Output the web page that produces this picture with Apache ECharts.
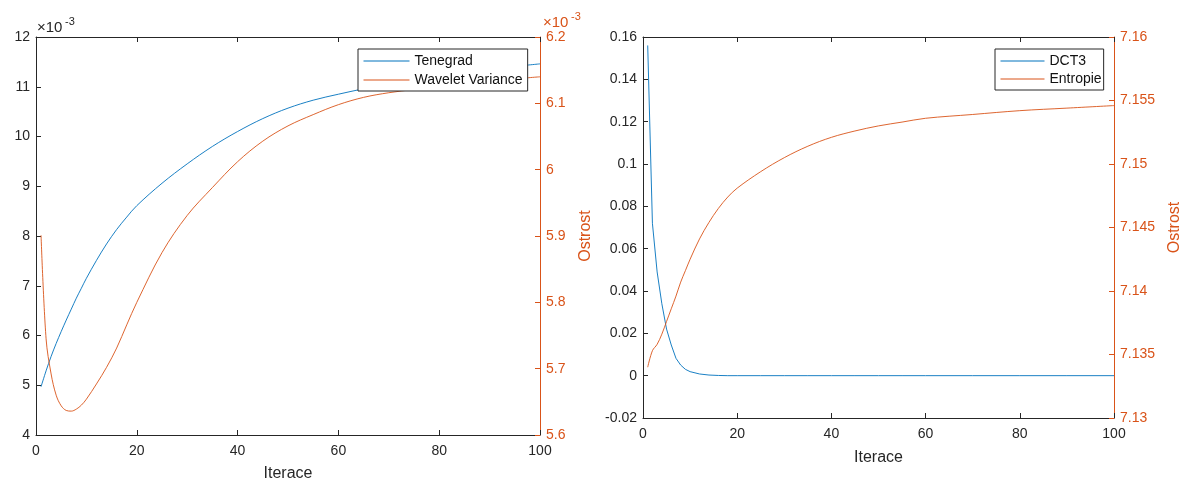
<!DOCTYPE html>
<html>
<head>
<meta charset="utf-8">
<script src="https://cdn.jsdelivr.net/npm/echarts@6/dist/echarts.min.js"></script>
<style>
  html, body { margin: 0; padding: 0; background: #fff; }
  #chart { width: 1183px; height: 481px; }
</style>
</head>
<body>
<div id="chart"></div>
<script>
// Left panel: sharpness measures (values in units of 1e-3)
const leftIter = [1, 2, 3, 4, 5, 6, 7, 8, 9, 10, 12, 14, 16, 18, 20, 25, 30, 35, 40, 45, 50, 55, 60, 65, 70, 75, 80, 85, 90, 95, 100];
const tenegrad = [4.97, 5.29, 5.58, 5.84, 6.08, 6.31, 6.53, 6.75, 6.95, 7.15, 7.51, 7.84, 8.13, 8.38, 8.61, 9.06, 9.45, 9.80, 10.10, 10.36, 10.57, 10.73, 10.85, 10.96, 11.06, 11.15, 11.23, 11.30, 11.36, 11.41, 11.46];
const waveletVariance = [5.901, 5.745, 5.692, 5.660, 5.644, 5.637, 5.636, 5.639, 5.645, 5.654, 5.677, 5.702, 5.731, 5.766, 5.800, 5.875, 5.931, 5.973, 6.012, 6.043, 6.066, 6.083, 6.098, 6.109, 6.116, 6.121, 6.126, 6.130, 6.134, 6.137, 6.140];

// Right panel: DCT3 and entropy
const rightIter = [1, 2, 3, 4, 5, 6, 7, 8, 9, 10, 12, 14, 16, 18, 20, 25, 30, 35, 40, 45, 50, 55, 60, 70, 80, 90, 100];
const dct3 = [0.156, 0.072, 0.049, 0.034, 0.022, 0.0145, 0.0082, 0.0050, 0.0030, 0.0019, 0.0008, 0.0003, 0.0001, 0, 0, 0, 0, 0, 0, 0, 0, 0, 0, 0, 0, 0, 0];
const entropie = [7.1340, 7.1353, 7.1358, 7.1366, 7.1376, 7.1386, 7.1396, 7.1407, 7.1416, 7.1425, 7.1441, 7.1454, 7.1465, 7.1474, 7.1481, 7.1494, 7.1505, 7.1514, 7.1521, 7.1526, 7.1530, 7.1533, 7.1536, 7.1539, 7.1542, 7.1544, 7.1546];

const xTicks = { min: 0, max: 100, interval: 20 };

const FONT = 'Liberation Sans, Arial, sans-serif';
const INK = '#262626';
const BLUE = '#0072BD';
const ORANGE = '#D95319';

const pairs = (xs, ys) => xs.map((x, i) => [x, ys[i]]);

function bottomX(grid, nameGap) {
  return {
    gridIndex: grid, type: 'value', position: 'bottom',
    min: xTicks.min, max: xTicks.max, interval: xTicks.interval,
    name: 'Iterace', nameLocation: 'middle', nameGap: nameGap,
    nameTextStyle: { fontSize: 16, color: INK, fontFamily: FONT },
    axisLine: { show: true, onZero: false, lineStyle: { color: INK, width: 1 } },
    axisTick: { show: true, inside: true, length: 5, lineStyle: { color: INK } },
    axisLabel: { fontSize: 14, color: INK, fontFamily: FONT, margin: 9 },
    splitLine: { show: false }
  };
}
function topX(grid) {
  return {
    gridIndex: grid, type: 'value', position: 'top',
    min: xTicks.min, max: xTicks.max, interval: xTicks.interval,
    axisLine: { show: true, onZero: false, lineStyle: { color: INK, width: 1 } },
    axisTick: { show: true, inside: true, length: 5, lineStyle: { color: INK } },
    axisLabel: { show: false },
    splitLine: { show: false }
  };
}
function yAx(grid, pos, min, max, interval, color, name, nameGap) {
  const a = {
    gridIndex: grid, type: 'value', position: pos,
    min: min, max: max, interval: interval,
    axisLine: { show: true, onZero: false, lineStyle: { color: color, width: 1 } },
    axisTick: { show: true, inside: true, length: 5, lineStyle: { color: color } },
    axisLabel: { fontSize: 14, color: color, fontFamily: FONT, margin: 6 },
    splitLine: { show: false }
  };
  if (name) {
    a.name = name;
    a.nameLocation = 'middle';
    a.nameGap = nameGap;
    a.nameTextStyle = { fontSize: 16, color: color, fontFamily: FONT };
  }
  return a;
}
function legend(names, left, top, itemWidth, itemGap, padRight) {
  return {
    data: names, orient: 'vertical', left: left, top: top,
    padding: [5, padRight, 4, 5], itemGap: itemGap,
    itemWidth: itemWidth, itemHeight: 14,
    backgroundColor: '#fff', borderColor: INK, borderWidth: 1, borderRadius: 0,
    itemStyle: { opacity: 0 },
    lineStyle: { width: 1 },
    textStyle: { fontSize: 14, color: '#111', fontFamily: FONT },
    selectedMode: false
  };
}
function lineSeries(name, xi, yi, xs, ys, color, smooth) {
  return {
    name: name, type: 'line', xAxisIndex: xi, yAxisIndex: yi,
    data: pairs(xs, ys), symbol: 'none', smooth: smooth,
    lineStyle: { color: color, width: 0.9 }, itemStyle: { color: color },
    animation: false
  };
}

const chart = echarts.init(document.getElementById('chart'), null, { renderer: 'canvas' });
chart.setOption({
  animation: false,
  backgroundColor: '#fff',
  textStyle: { fontFamily: FONT },
  grid: [
    { left: 36, top: 37, width: 504, height: 398, outerBoundsMode: 'none', containLabel: false },
    { left: 643, top: 37, width: 471, height: 381, outerBoundsMode: 'none', containLabel: false }
  ],
  xAxis: [bottomX(0, 31), topX(0), bottomX(1, 32), topX(1)],
  yAxis: [
    yAx(0, 'left', 4, 12, 1, INK),
    yAx(0, 'right', 5.6, 6.2, 0.1, ORANGE, 'Ostrost', 38),
    yAx(1, 'left', -0.02, 0.16, 0.02, INK),
    yAx(1, 'right', 7.13, 7.16, 0.005, ORANGE, 'Ostrost', 53)
  ],
  legend: [
    legend(['Tenegrad', 'Wavelet Variance'], 358, 49, 46, 5, 5),
    legend(['DCT3', 'Entropie'], 995, 49, 44, 4, 2)
  ],
  series: [
    lineSeries('Tenegrad', 0, 0, leftIter, tenegrad, BLUE, 0.35),
    lineSeries('Wavelet Variance', 0, 1, leftIter, waveletVariance, ORANGE, 0.35),
    lineSeries('DCT3', 2, 2, rightIter, dct3, BLUE, false),
    lineSeries('Entropie', 2, 3, rightIter, entropie, ORANGE, 0.35)
  ],
  graphic: [
    { type: 'text', left: 37, top: 20, style: { text: '\u00d710', fill: INK, font: '15px ' + FONT } },
    { type: 'text', left: 65, top: 16, style: { text: '-3', fill: INK, font: '11px ' + FONT } },
    { type: 'text', left: 543, top: 15, style: { text: '\u00d710', fill: ORANGE, font: '15px ' + FONT } },
    { type: 'text', left: 571, top: 11, style: { text: '-3', fill: ORANGE, font: '11px ' + FONT } }
  ]
});
</script>
</body>
</html>
